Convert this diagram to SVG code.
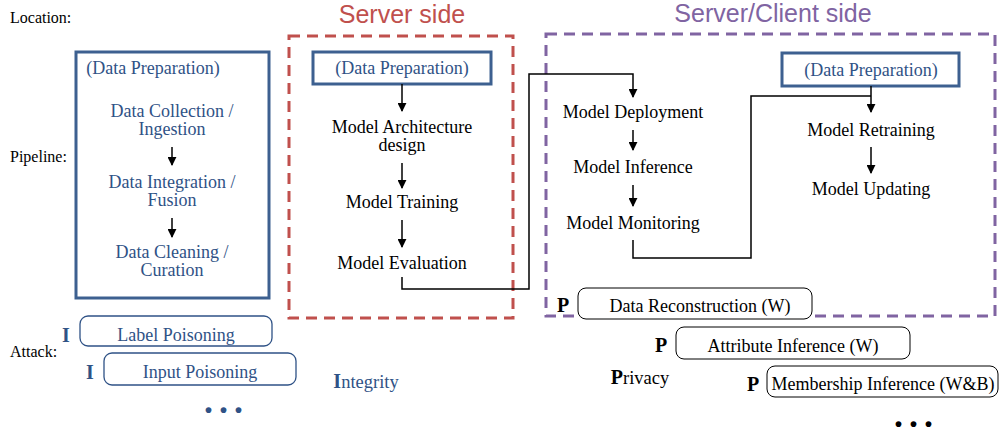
<svg xmlns="http://www.w3.org/2000/svg" width="1000" height="427" viewBox="0 0 1000 427">
<style>
.t{font-family:"Liberation Serif",serif;font-size:18px;text-anchor:middle;fill:#000}
.b{fill:#2f5286}
.lab{font-family:"Liberation Serif",serif;font-size:16px;fill:#000}
.hd{font-family:"Liberation Sans",sans-serif;font-size:25px;text-anchor:middle}
.pb{fill:none;stroke:#3d6090;stroke-width:3}
.ab{fill:#fff;stroke:#2f5286;stroke-width:1.3}
.pbx{fill:#fff;stroke:#000;stroke-width:1}
.ar{fill:none;stroke:#000;stroke-width:1.5}
.bold{font-weight:bold}
.big{font-size:20px}
.mid{font-size:18.5px}
.dots{font-family:"Liberation Serif",serif;font-weight:bold;font-size:36px;letter-spacing:6px}
</style>
<defs>
<marker id="ah" viewBox="0 0 10 10" refX="9" refY="5" markerWidth="9" markerHeight="9" markerUnits="userSpaceOnUse" orient="auto"><path d="M0,0 L10,5 L0,10 z" fill="#000"/></marker>
</defs>
<text class="lab" x="10" y="23">Location:</text>
<text class="lab" x="10" y="162">Pipeline:</text>
<text class="lab" x="10" y="357">Attack:</text>

<g id="server-side">
<rect x="289" y="36" width="224" height="282" fill="none" stroke="#c0504d" stroke-width="3" stroke-dasharray="11,7"/>
<text class="hd" x="402" y="23" fill="#c0504d">Server side</text>
</g>
<g id="server-client-side">
<rect x="546" y="34" width="449" height="282" fill="none" stroke="#8064a2" stroke-width="3" stroke-dasharray="11,7"/>
<text class="hd" x="773" y="22" fill="#8064a2">Server/Client side</text>
</g>

<g id="data-prep-left">
<rect class="pb" x="76" y="52" width="193" height="246"/>
<text class="t b" x="153" y="74">(Data Preparation)</text>
<text class="t b" x="172" y="117">Data Collection /</text>
<text class="t b" x="172" y="135">Ingestion</text>
<text class="t b" x="172" y="188">Data Integration /</text>
<text class="t b" x="172" y="206">Fusion</text>
<text class="t b" x="172" y="258">Data Cleaning /</text>
<text class="t b" x="172" y="276">Curation</text>
</g>

<g id="dp-server">
<rect class="pb" x="313" y="52" width="178" height="32"/>
<text class="t b" x="402" y="74">(Data Preparation)</text>
</g>
<g id="model-arch"><text class="t" x="402" y="133">Model Architecture</text><text class="t" x="402" y="151">design</text></g>
<g id="model-training"><text class="t" x="402" y="208">Model Training</text></g>
<g id="model-eval"><text class="t" x="402" y="269">Model Evaluation</text></g>

<g id="model-deploy"><text class="t" x="633" y="118">Model Deployment</text></g>
<g id="model-inference"><text class="t" x="633" y="173">Model Inference</text></g>
<g id="model-monitoring"><text class="t" x="633" y="229">Model Monitoring</text></g>
<g id="dp-client">
<rect class="pb" x="782" y="53" width="177" height="33"/>
<text class="t b" x="871" y="76">(Data Preparation)</text>
</g>
<g id="model-retraining"><text class="t" x="871" y="136">Model Retraining</text></g>
<g id="model-updating"><text class="t" x="871" y="195">Model Updating</text></g>

<g id="connectors">
<line class="ar" x1="172" y1="147" x2="172" y2="165" marker-end="url(#ah)"/>
<line class="ar" x1="172" y1="218" x2="172" y2="237" marker-end="url(#ah)"/>
<line class="ar" x1="402" y1="84" x2="402" y2="111" marker-end="url(#ah)"/>
<line class="ar" x1="402" y1="163" x2="402" y2="188" marker-end="url(#ah)"/>
<line class="ar" x1="402" y1="220" x2="402" y2="247" marker-end="url(#ah)"/>
<polyline class="ar" points="402,277 402,289 529,289 529,74 633,74 633,97" marker-end="url(#ah)"/>
<line class="ar" x1="633" y1="130" x2="633" y2="150" marker-end="url(#ah)"/>
<line class="ar" x1="633" y1="185" x2="633" y2="206" marker-end="url(#ah)"/>
<polyline class="ar" points="633,240 633,258 751,258 751,96 871,96"/>
<line class="ar" x1="871" y1="86" x2="871" y2="112" marker-end="url(#ah)"/>
<line class="ar" x1="871" y1="147" x2="871" y2="173" marker-end="url(#ah)"/>
</g>

<g id="label-poisoning">
<rect class="ab" x="80" y="316" width="192" height="30" rx="8"/>
<text class="t b" x="176" y="341">Label Poisoning</text>
<text class="t b bold big" x="66" y="342">I</text>
</g>
<g id="input-poisoning">
<rect class="ab" x="104" y="353" width="192" height="32" rx="8"/>
<text class="t b" x="200" y="378">Input Poisoning</text>
<text class="t b bold big" x="90" y="379">I</text>
</g>
<g id="integrity">
<text class="t b mid" x="366" y="388"><tspan class="bold big">I</tspan>ntegrity</text>
<text class="dots" x="204" y="413" fill="#2f5286">...</text>
</g>

<g id="data-reconstruction">
<rect class="pbx" x="578" y="288" width="234" height="31" rx="8"/>
<text class="t" x="700" y="312">Data Reconstruction (W)</text>
<text class="t bold big" x="563" y="312">P</text>
</g>
<g id="attribute-inference">
<rect class="pbx" x="676" y="327" width="234" height="32" rx="8"/>
<text class="t" x="793" y="352">Attribute Inference (W)</text>
<text class="t bold big" x="661" y="352">P</text>
</g>
<g id="membership-inference">
<rect class="pbx" x="767" y="366" width="231" height="31" rx="8"/>
<text class="t" x="883" y="390">Membership Inference (W&amp;B)</text>
<text class="t bold big" x="753" y="391">P</text>
</g>
<g id="privacy">
<text class="t mid" x="640" y="384"><tspan class="bold big">P</tspan>rivacy</text>
<text class="dots" x="894" y="427" fill="#000">...</text>
</g>
</svg>
